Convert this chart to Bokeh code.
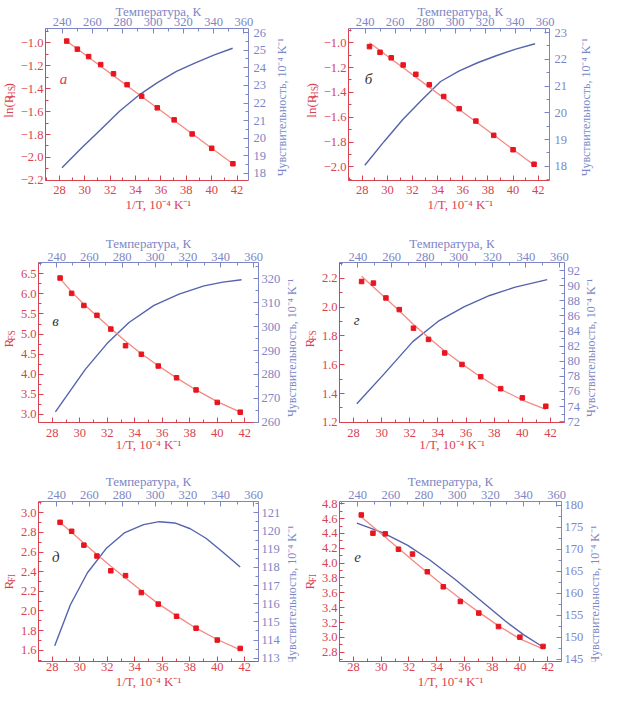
from math import pi
from bokeh.plotting import figure
from bokeh.models import (Range1d, LinearAxis, SingleIntervalTicker,
                          CustomJSTickFormatter, Label)
from bokeh.layouts import column, row
from bokeh.embed import file_html
from bokeh.resources import INLINE

# ------------------------------------------------------------------ data
inv_T = [28.57, 29.41, 30.30, 31.25, 32.26, 33.33, 34.48, 35.71, 37.04, 38.46, 40.00, 41.67]

a_pts = [-0.985, -1.055, -1.12, -1.19, -1.27, -1.365, -1.465, -1.567, -1.672, -1.795, -1.92, -2.055]
a_fit = [-0.985, -1.054, -1.126, -1.204, -1.286, -1.374, -1.468, -1.568, -1.677, -1.793, -1.919, -2.055]
a_sens_x = [28.2, 29.74, 31.24, 32.73, 34.23, 35.72, 37.22, 38.71, 40.21, 41.65]
a_sens = [18.33, 19.45, 20.48, 21.53, 22.43, 23.16, 23.79, 24.28, 24.73, 25.11]

b_pts = [-1.031, -1.077, -1.121, -1.179, -1.254, -1.338, -1.433, -1.531, -1.631, -1.746, -1.862, -1.979]
b_fit = [-1.0, -1.063, -1.13, -1.201, -1.277, -1.358, -1.444, -1.537, -1.637, -1.744, -1.86, -1.985]
b_sens_x = [28.2, 29.74, 31.24, 32.73, 34.23, 35.72, 37.22, 38.71, 40.21, 41.75]
b_sens = [18.04, 18.93, 19.76, 20.48, 21.17, 21.57, 21.88, 22.14, 22.38, 22.58]

v_pts = [6.394, 6.012, 5.71, 5.466, 5.124, 4.71, 4.498, 4.205, 3.912, 3.61, 3.30, 3.057]
v_fit = [6.38, 6.05, 5.74, 5.45, 5.14, 4.82, 4.51, 4.21, 3.91, 3.61, 3.32, 3.06]
v_sens_x = [28.23, 30.39, 31.98, 33.58, 35.4, 37.22, 39.04, 40.41, 41.77]
v_sens = [264.35, 282.0, 292.9, 301.7, 308.9, 313.6, 317.0, 318.6, 319.6]

g_pts = [2.178, 2.167, 2.064, 1.983, 1.854, 1.776, 1.682, 1.602, 1.517, 1.434, 1.370, 1.312]
g_fit = [2.215, 2.14, 2.06, 1.975, 1.88, 1.79, 1.695, 1.605, 1.515, 1.43, 1.355, 1.29]
g_sens_x = [28.23, 30.16, 32.21, 34.03, 35.85, 37.68, 39.5, 41.77]
g_sens = [74.37, 78.3, 82.6, 85.3, 87.2, 88.7, 89.8, 90.8]

d_pts = [2.902, 2.811, 2.670, 2.559, 2.409, 2.360, 2.187, 2.070, 1.946, 1.825, 1.704, 1.619]
d_fit = [2.90, 2.80, 2.69, 2.575, 2.455, 2.335, 2.205, 2.075, 1.95, 1.825, 1.71, 1.605]
d_sens_x = [28.18, 29.32, 30.56, 31.92, 33.28, 34.64, 35.78, 36.91, 38.04, 39.18, 40.31, 41.67]
d_sens = [113.69, 115.94, 117.70, 119.03, 119.91, 120.35, 120.51, 120.44, 120.12, 119.6, 118.9, 118.02]

e_pts = [4.649, 4.403, 4.394, 4.187, 4.122, 3.884, 3.681, 3.483, 3.327, 3.146, 3.003, 2.878]
e_fit = [4.62, 4.49, 4.35, 4.20, 4.04, 3.875, 3.70, 3.52, 3.34, 3.155, 2.98, 2.845]
e_sens_x = [28.25, 30.11, 31.92, 33.51, 35.32, 37.13, 38.95, 40.31, 41.67]
e_sens = [175.99, 173.8, 170.9, 167.6, 163.2, 158.5, 153.7, 150.5, 147.8]

top_title = "Температура, К"
bottom_title = "1/T, 10⁻⁴ K⁻¹"
right_title = "Чувствительность, 10⁻⁴ K⁻¹"

# ------------------------------------------------------------------ style
FONT = "Liberation Serif"
RED_AX = "#d9434f"
BLUE_AX = "#7d86c6"
RED_LINE = "#f48a84"
RED_PT = "#e8151f"
BLUE_LINE = "#5563ad"
DARK = "#333333"
TOP_RANGE = (229, 363)
TICK_FS = "12.5px"
NB = "\u00a0"


def fmt(dec):
    return CustomJSTickFormatter(code="return tick.toFixed(%d).replace('-', '\u2212');" % dec)


def style_axis(ax, color, interval, dec, standoff, label=None, lstand=0):
    ax.ticker = SingleIntervalTicker(interval=interval, num_minor_ticks=2)
    ax.formatter = fmt(dec)
    ax.axis_line_color = color
    ax.major_tick_line_color = color
    ax.minor_tick_line_color = color
    ax.major_tick_in = 5
    ax.major_tick_out = 0
    ax.minor_tick_in = 3
    ax.minor_tick_out = 0
    ax.major_label_text_color = color
    ax.major_label_text_font = FONT
    ax.major_label_text_font_size = TICK_FS
    ax.major_label_standoff = standoff
    ax.axis_label = label
    if label:
        ax.axis_label_text_color = color
        ax.axis_label_text_font = FONT
        ax.axis_label_text_font_size = "13px"
        ax.axis_label_text_font_style = "normal"
        ax.axis_label_standoff = lstand


def lab(p, x, y, text, color, size="14px", angle=0.0, align="center",
        baseline="middle", fstyle="normal"):
    p.add_layout(Label(x=x, y=y, text=text, text_color=color, text_font=FONT,
                       text_font_size=size, angle=angle, text_align=align,
                       text_baseline=baseline, text_font_style=fstyle))


def blank(w, h):
    s = figure(width=w, height=h, x_range=Range1d(0, w), y_range=Range1d(0, h),
               output_backend="svg", toolbar_location=None, title=None,
               min_border=0, x_axis_location=None, y_axis_location=None)
    s.grid.visible = False
    s.outline_line_color = None
    s.background_fill_color = "white"
    s.border_fill_color = "white"
    return s


def left_strip(w, h, xm, cy, head, sub, w_head, w_sub, tail):
    # rotated title reading upwards, with a lowered subscript
    s = blank(w, h)
    w_tail = 5.0 if tail else 0.0
    total = w_head + w_sub + w_tail
    py = cy - total / 2 + w_head
    lab(s, xm, py - w_head / 2, head, RED_AX, "13px", pi / 2)
    lab(s, xm + 3.5, py + w_sub / 2 + 0.5, sub, RED_AX, "9.5px", pi / 2)
    if tail:
        lab(s, xm, py + w_sub + 1 + w_tail / 2, tail, RED_AX, "13px", pi / 2)
    return s


def right_strip(w, h, cx, cy):
    s = blank(w, h)
    lab(s, cx, cy, right_title, BLUE_AX, "12px", pi / 2, "center", "middle")
    return s


def panel(W, H, L, R, T, B, xr, yl, yr, yl_step, yl_dec, yr_step, r_stand,
          pts, fit, sx, sy, letter, letter_color, letter_xy, top_st, bot_st, pad):
    p = figure(width=W, height=H, x_range=Range1d(*xr), y_range=Range1d(*yl),
               output_backend="svg", toolbar_location=None, title=None,
               min_border_left=L, min_border_right=R, min_border_top=T,
               min_border_bottom=B)
    p.extra_x_ranges = {"top": Range1d(*TOP_RANGE)}
    p.extra_y_ranges = {"right": Range1d(*yr)}
    p.grid.visible = False
    p.outline_line_color = None
    p.background_fill_color = "white"
    p.border_fill_color = "white"

    style_axis(p.below[0], RED_AX, 2, 0, bot_st[0], NB * pad + bottom_title, bot_st[1])
    style_axis(p.left[0], RED_AX, yl_step, yl_dec, 2)
    top = LinearAxis(x_range_name="top")
    style_axis(top, BLUE_AX, 20, 0, top_st[0], NB * pad + top_title, top_st[1])
    p.add_layout(top, "above")
    right = LinearAxis(y_range_name="right")
    style_axis(right, BLUE_AX, yr_step, 0, r_stand)
    p.add_layout(right, "right")

    p.line(sx, sy, y_range_name="right", line_color=BLUE_LINE, line_width=1.4)
    p.line(inv_T, fit, line_color=RED_LINE, line_width=1.3)
    p.scatter(inv_T, pts, marker="square", size=4.5, fill_color=RED_PT,
              line_color=RED_PT)
    lab(p, letter_xy[0], letter_xy[1], letter, letter_color, "15px", 0,
        "center", "middle", "italic")
    return p


# text widths along the rotated titles (px)
W_LNR, W_R, W_HS, W_FS, W_FI = 26.6, 10.0, 13.9, 12.2, 9.7

# row 1 -------------------------------------------------------------
H1, H2, H3 = 224, 240, 227
la = left_strip(17, H1, 7.5, 119, "ln(R", "HS", W_LNR, W_HS, ")")
pa = panel(252, H1, 25, 20, 24, 44, (26.9, 42.9), (-2.201, -0.875), (17.6, 26.23),
           0.2, 1, 1, 5, a_pts, a_fit, a_sens_x, a_sens, "а", RED_AX, (28.32, -1.316),
           (3, -4), (5, 0), 7)
ra = right_strip(31, H1, 12, 108)
lb = left_strip(20, H1, 10.5, 119, "ln(R", "HS", W_LNR, W_HS, ")")
pb = panel(250, H1, 25, 20, 24, 44, (26.9, 42.9), (-2.11, -0.885), (17.47, 23.15),
           0.2, 1, 1, 5, b_pts, b_fit, b_sens_x, b_sens, "б", DARK, (28.5, -1.295),
           (3, -4), (5, 0), 7)
rb = right_strip(33, H1, 15, 108)
# row 2 -------------------------------------------------------------
lv = left_strip(17, H2, 7.5, 125, "R", "FS", W_R, W_FS, None)
pv = panel(266, H2, 18, 22, 38, 42, (27, 43), (2.8, 6.78), (259.9, 326.8),
           0.5, 1, 10, 3, v_pts, v_fit, v_sens_x, v_sens, "в", DARK, (28.23, 5.335),
           (2, -1), (6, -3), 0)
rv = right_strip(17, H2, 8, 112)
lg = left_strip(18, H2, 8.5, 125, "R", "FS", W_R, W_FS, None)
pg = panel(265, H2, 18, 17, 38, 42, (27, 43), (1.199, 2.31), (71.9, 93.06),
           0.2, 1, 2, 3, g_pts, g_fit, g_sens_x, g_sens, "г", DARK, (28.23, 1.912),
           (2, -1), (6, -3), 0)
rg = right_strip(20, H2, 7.5, 112)
# row 3 -------------------------------------------------------------
ld = left_strip(17, H3, 7.5, 113, "R", "FI", W_R, W_FI, None)
pd = panel(266, H3, 18, 22, 37, 27, (27, 43), (1.486, 3.114), (112.82, 121.62),
           0.2, 1, 1, 3, d_pts, d_fit, d_sens_x, d_sens, "д", DARK, (28.25, 2.552),
           (3, -1), (1, 0), 0)
rd = right_strip(17, H3, 8, 95)
le = left_strip(18, H3, 8.5, 113, "R", "FI", W_R, W_FI, None)
pe = panel(268, H3, 18, 22, 37, 27, (27, 43), (2.675, 4.83), (144.5, 180.9),
           0.2, 1, 5, 3, e_pts, e_fit, e_sens_x, e_sens, "е", DARK, (28.3, 4.08),
           (3, -1), (1, 0), 0)
re_ = right_strip(17, H3, 8, 95)

layout = column(row(la, pa, ra, lb, pb, rb),
                row(lv, pv, rv, lg, pg, rg),
                row(ld, pd, rd, le, pe, re_))

with open("out.html", "w", encoding="utf-8") as f:
    f.write(file_html(layout, INLINE))
